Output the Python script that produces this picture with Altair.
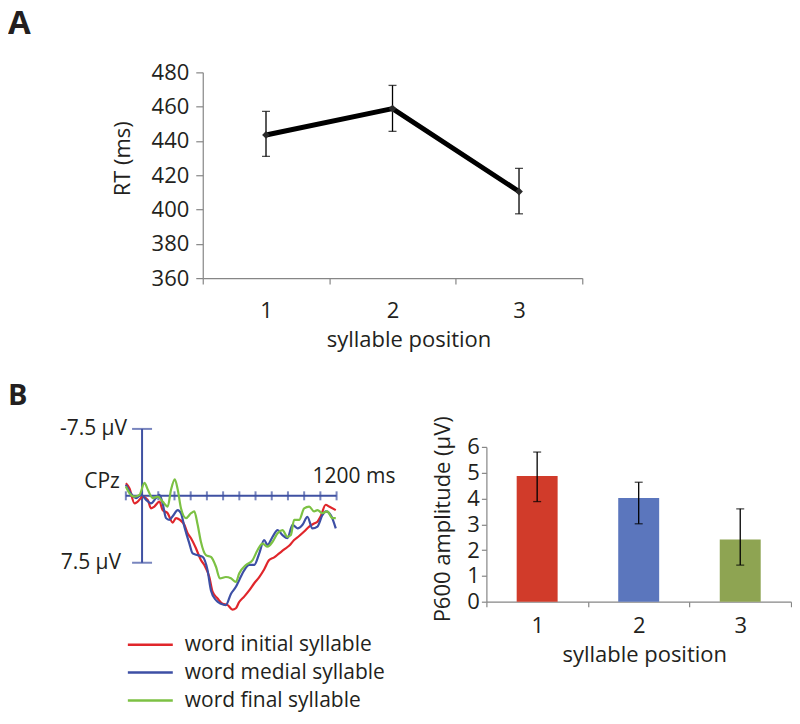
import altair as alt
import pandas as pd

FONT = "Open Sans"
TXT = "#231f20"
AX = "#868686"
ERP_AX = "#3f51a2"

# ---------------- Panel A: reaction times ----------------
positions = ["1", "2", "3"]
rt_mean = [443.5, 458.9, 410.5]
rt_low = [431.0, 445.6, 397.5]
rt_high = [457.2, 472.4, 424.0]
rt_ticks = [360, 380, 400, 420, 440, 460, 480]

# ---------------- Panel B left: ERP at CPz ----------------
cond_labels = ["word initial syllable", "word medial syllable", "word final syllable"]
cond_colors = ["#e0262b", "#3d4fa5", "#7cc143"]

red_t = [-100, -78, -47, -27, 4, 35, 55, 76, 107, 127, 158, 189, 209, 234, 261, 281,
         302, 333, 363, 384, 415, 435, 466, 497, 528, 558, 579, 599, 630, 661, 692,
         723, 753, 784, 815, 846, 877, 907, 938, 969, 1000, 1031, 1061, 1082, 1102,
         1133, 1154, 1195]
red_v = [-1.4, -0.85, 0.85, 0.65, 0.1, 0.45, 1.4, 1.2, 0.65, 1.6, 1.95, 3.0, 2.5, 2.7,
         3.25, 4.2, 4.75, 5.9, 7.2, 7.75, 9.1, 10.75, 11.5, 12.1, 12.25, 12.75, 12.6,
         11.9, 11.3, 10.6, 9.8, 9.1, 8.25, 7.2, 6.9, 6.45, 6.0, 5.6, 4.95, 4.5, 4.0,
         3.45, 3.1, 2.9, 2.3, 1.0, 1.2, 1.6]

blue_t = [-100, -68, -37, -6, 25, 55, 86, 107, 127, 148, 168, 189, 220, 240, 261, 292,
          312, 343, 374, 404, 425, 456, 487, 517, 548, 579, 599, 630, 661, 692, 723,
          753, 774, 805, 836, 866, 897, 928, 959, 990, 1020, 1051, 1082, 1113, 1133,
          1164, 1195]
blue_v = [-1.25, -0.25, 0.25, -0.1, 0.45, 0.85, 0.25, -0.1, 0.85, 2.5, 2.7, 2.3, 1.6,
          1.95, 3.45, 5.35, 6.45, 6.65, 6.85, 8.35, 10.6, 11.7, 12.1, 12.25, 11.0, 10.2,
          9.45, 8.35, 7.75, 7.75, 6.45, 4.95, 5.5, 4.6, 3.85, 4.4, 4.75, 3.25, 3.65,
          3.25, 2.35, 3.65, 3.45, 2.15, 1.75, 2.15, 3.65]

green_t = [-100, -78, -47, -16, 15, 35, 66, 96, 127, 158, 179, 202, 220, 240, 271, 302,
           322, 343, 363, 394, 425, 456, 480, 517, 548, 579, 599, 641, 682, 712, 743,
           774, 805, 836, 866, 897, 918, 938, 969, 1000, 1031, 1061, 1082, 1113, 1143,
           1174, 1195]
green_v = [-1.05, -0.3, 0.1, -0.1, -1.45, -0.7, 0.25, 0.1, 0.65, 1.2, -0.7, -1.85, -0.7,
           1.4, 2.5, 1.95, 1.75, 3.25, 5.15, 6.65, 6.85, 7.95, 9.25, 9.1, 9.25, 9.65,
           8.7, 7.75, 7.2, 6.1, 5.35, 5.7, 5.15, 4.2, 3.85, 4.6, 4.4, 2.7, 2.7, 1.4, 1.2,
           1.75, 1.6, 1.95, 1.75, 2.5, 2.5]

erp_ticks = [-100, 0, 100, 200, 300, 400, 500, 600, 700, 800, 900, 1000, 1100, 1200]
erp_limit = 7.5

# ---------------- Panel B right: P600 amplitude ----------------
p600_mean = [4.87, 4.02, 2.41]
p600_low = [3.88, 3.02, 1.42]
p600_high = [5.80, 4.63, 3.60]
p600_ticks = [0, 1, 2, 3, 4, 5, 6]
bar_colors = ["#d13b2a", "#5b76bd", "#8ea452"]

# ======================= Panel A =======================
dfA = pd.DataFrame({"pos": positions, "rt": rt_mean, "lo": rt_low, "hi": rt_high})
xA = alt.X("pos:N", sort=positions,
           scale=alt.Scale(type="band", paddingInner=0, paddingOuter=0),
           axis=alt.Axis(title="syllable position", labelAngle=0, tickBand="extent",
                         tickSize=6, labelBaseline="alphabetic", labelPadding=33,
                         titleX=206, titleY=68,
                         titleBaseline="alphabetic", titleAlign="center"))
yA_scale = alt.Scale(domain=[rt_ticks[0], rt_ticks[-1]], nice=False, zero=False)
yA_axis = alt.Axis(title="RT (ms)", values=rt_ticks, tickSize=7, labelPadding=7,
                   titleX=-80, titleY=86, titleAlign="center", titleBaseline="middle")


def yA(field):
    return alt.Y(field + ":Q", scale=yA_scale, axis=yA_axis)


baseA = alt.Chart(dfA)
lineA = baseA.mark_line(color="black", strokeWidth=5).encode(x=xA, y=yA("rt"))
errA = baseA.mark_rule(color="black", strokeWidth=1.3).encode(x=xA, y=yA("lo"), y2="hi:Q")
capLoA = baseA.mark_tick(color="black", size=8, thickness=1.3).encode(x=xA, y=yA("lo"))
capHiA = baseA.mark_tick(color="black", size=8, thickness=1.3).encode(x=xA, y=yA("hi"))
ptsA = baseA.mark_point(shape="diamond", filled=True, size=60, color="#2a2a2a",
                        opacity=1).encode(x=xA, y=yA("rt"))
panelA = alt.layer(lineA, errA, capLoA, capHiA, ptsA).properties(width=380, height=206)

spacerA = alt.Chart(pd.DataFrame({"label": ["A"]})).mark_text(
    font=FONT, fontSize=33, fontWeight="bold", align="left", baseline="top", color=TXT
).encode(text="label:N", x=alt.value(-118), y=alt.value(-64)).properties(width=40, height=206)

# ======================= ERP =======================
rows = []
for lab, ts, vs in zip(cond_labels, [red_t, blue_t, green_t], [red_v, blue_v, green_v]):
    for t, v in zip(ts, vs):
        rows.append({"cond": lab, "t": t, "v": v})
dfE = pd.DataFrame(rows)

xE = alt.X("t:Q", scale=alt.Scale(domain=[erp_ticks[0], erp_ticks[-1]], nice=False, zero=False), axis=None)
yE = alt.Y("v:Q", scale=alt.Scale(domain=[-5.485, 11.866], nice=False, zero=False, reverse=True), axis=None)

hAxis = alt.Chart(pd.DataFrame({"t": [erp_ticks[0]], "t2": [erp_ticks[-1]], "v": [0]})).mark_rule(
    color=ERP_AX, strokeWidth=2).encode(x=xE, x2="t2:Q", y=yE)
hTicks = alt.Chart(pd.DataFrame({"t": erp_ticks, "v": [0] * len(erp_ticks)})).mark_tick(
    orient="vertical", size=9, thickness=2, color=ERP_AX).encode(x=xE, y=yE)
vAxis = alt.Chart(pd.DataFrame({"t": [0], "v": [-erp_limit], "v2": [erp_limit]})).mark_rule(
    color=ERP_AX, strokeWidth=2).encode(x=xE, y=yE, y2="v2:Q")
vCaps = alt.Chart(pd.DataFrame({"t": [0, 0], "v": [-erp_limit, erp_limit]})).mark_tick(
    orient="horizontal", size=20, thickness=2, color=ERP_AX).encode(x=xE, y=yE)

lines = alt.Chart(dfE).mark_line(strokeWidth=2.2, interpolate="monotone").encode(
    x=xE, y=yE,
    color=alt.Color("cond:N", sort=cond_labels,
                    scale=alt.Scale(domain=cond_labels, range=cond_colors),
                    legend=None))


def erp_text(t, v, label, dx, align):
    return alt.Chart(pd.DataFrame({"t": [t], "v": [v], "label": [label]})).mark_text(
        font=FONT, fontSize=21, color=TXT, align=align, baseline="middle", dx=dx
    ).encode(x=xE, y=yE, text="label:N")


lblTop = erp_text(0, -erp_limit, "-7.5 \u00b5V", -15, "right")
lblBot = erp_text(0, erp_limit, "7.5 \u00b5V", -21, "right")
lblCPz = erp_text(erp_ticks[0], -1.6, "CPz", -6, "right")
lblMs = erp_text(erp_ticks[-1], -2.1, "1200 ms", -24, "left")

lblB = alt.Chart(pd.DataFrame({"label": ["B"]})).mark_text(
    font=FONT, fontSize=29, fontWeight="bold", align="left", baseline="top", color=TXT
).encode(text="label:N", x=alt.value(-118), y=alt.value(-65))

# hand-drawn legend below the ERP (rows 28 px apart, starting 198 px below the panel top)
legend_layers = []
for i, (lab, col) in enumerate(zip(cond_labels, cond_colors)):
    ypx = 198 + 28 * i
    dfL = pd.DataFrame({"label": [lab]})
    legend_layers.append(
        alt.Chart(dfL).mark_rule(color=col, strokeWidth=2.5).encode(
            x=alt.value(2), x2=alt.value(47), y=alt.value(ypx)))
    legend_layers.append(
        alt.Chart(dfL).mark_text(font=FONT, fontSize=21, color=TXT, align="left",
                                 baseline="middle").encode(
            text="label:N", x=alt.value(59), y=alt.value(ypx)))

erp = alt.layer(hAxis, hTicks, vAxis, vCaps, lines, lblTop, lblBot, lblCPz, lblMs, lblB,
                *legend_layers).properties(width=211, height=155)

# ======================= Bars =======================
dfB = pd.DataFrame({"pos": positions, "amp": p600_mean, "lo": p600_low, "hi": p600_high})
xB = alt.X("pos:N", sort=positions,
           scale=alt.Scale(type="band", paddingInner=0, paddingOuter=0),
           axis=alt.Axis(title="syllable position", labelAngle=0, tickBand="extent",
                         tickSize=5, labelBaseline="alphabetic", labelPadding=26,
                         titleX=158, titleY=60,
                         titleBaseline="alphabetic", titleAlign="center"))
yB_scale = alt.Scale(domain=[p600_ticks[0], p600_ticks[-1]], nice=False)
yB_axis = alt.Axis(title="P600 amplitude (\u00b5V)", values=p600_ticks, tickSize=5,
                   labelPadding=2, titleX=-44, titleY=72, titleAlign="center",
                   titleBaseline="middle")


def yB(field):
    return alt.Y(field + ":Q", scale=yB_scale, axis=yB_axis)


baseB = alt.Chart(dfB)
barsB = baseB.mark_bar(size=41).encode(
    x=xB, y=yB("amp"),
    fill=alt.Fill("pos:N", scale=alt.Scale(domain=positions, range=bar_colors), legend=None))
errB = baseB.mark_rule(color="black", strokeWidth=1.3).encode(x=xB, y=yB("lo"), y2="hi:Q")
capLoB = baseB.mark_tick(color="black", size=8, thickness=1.3).encode(x=xB, y=yB("lo"))
capHiB = baseB.mark_tick(color="black", size=8, thickness=1.3).encode(x=xB, y=yB("hi"))
bars = alt.layer(barsB, errB, capLoB, capHiB).properties(width=305, height=155)

# ======================= Layout =======================
rowA = alt.hconcat(spacerA, panelA, spacing=37, bounds="flush")
rowB = alt.hconcat(erp, bars, spacing=150, bounds="flush")

chart = alt.vconcat(rowA, rowB, spacing=375, bounds="flush").properties(
    padding={"left": 0, "top": 0, "right": 0, "bottom": 6}
).configure(font=FONT).configure_view(stroke=None).configure_axis(
    labelFont=FONT, titleFont=FONT, labelFontSize=22, titleFontSize=22,
    titleFontWeight="normal", labelColor=TXT, titleColor=TXT,
    domainColor=AX, tickColor=AX, domainWidth=1.2, tickWidth=1.2, grid=False
)

chart.save("out.html", embed_options={"renderer": "svg", "actions": False})
